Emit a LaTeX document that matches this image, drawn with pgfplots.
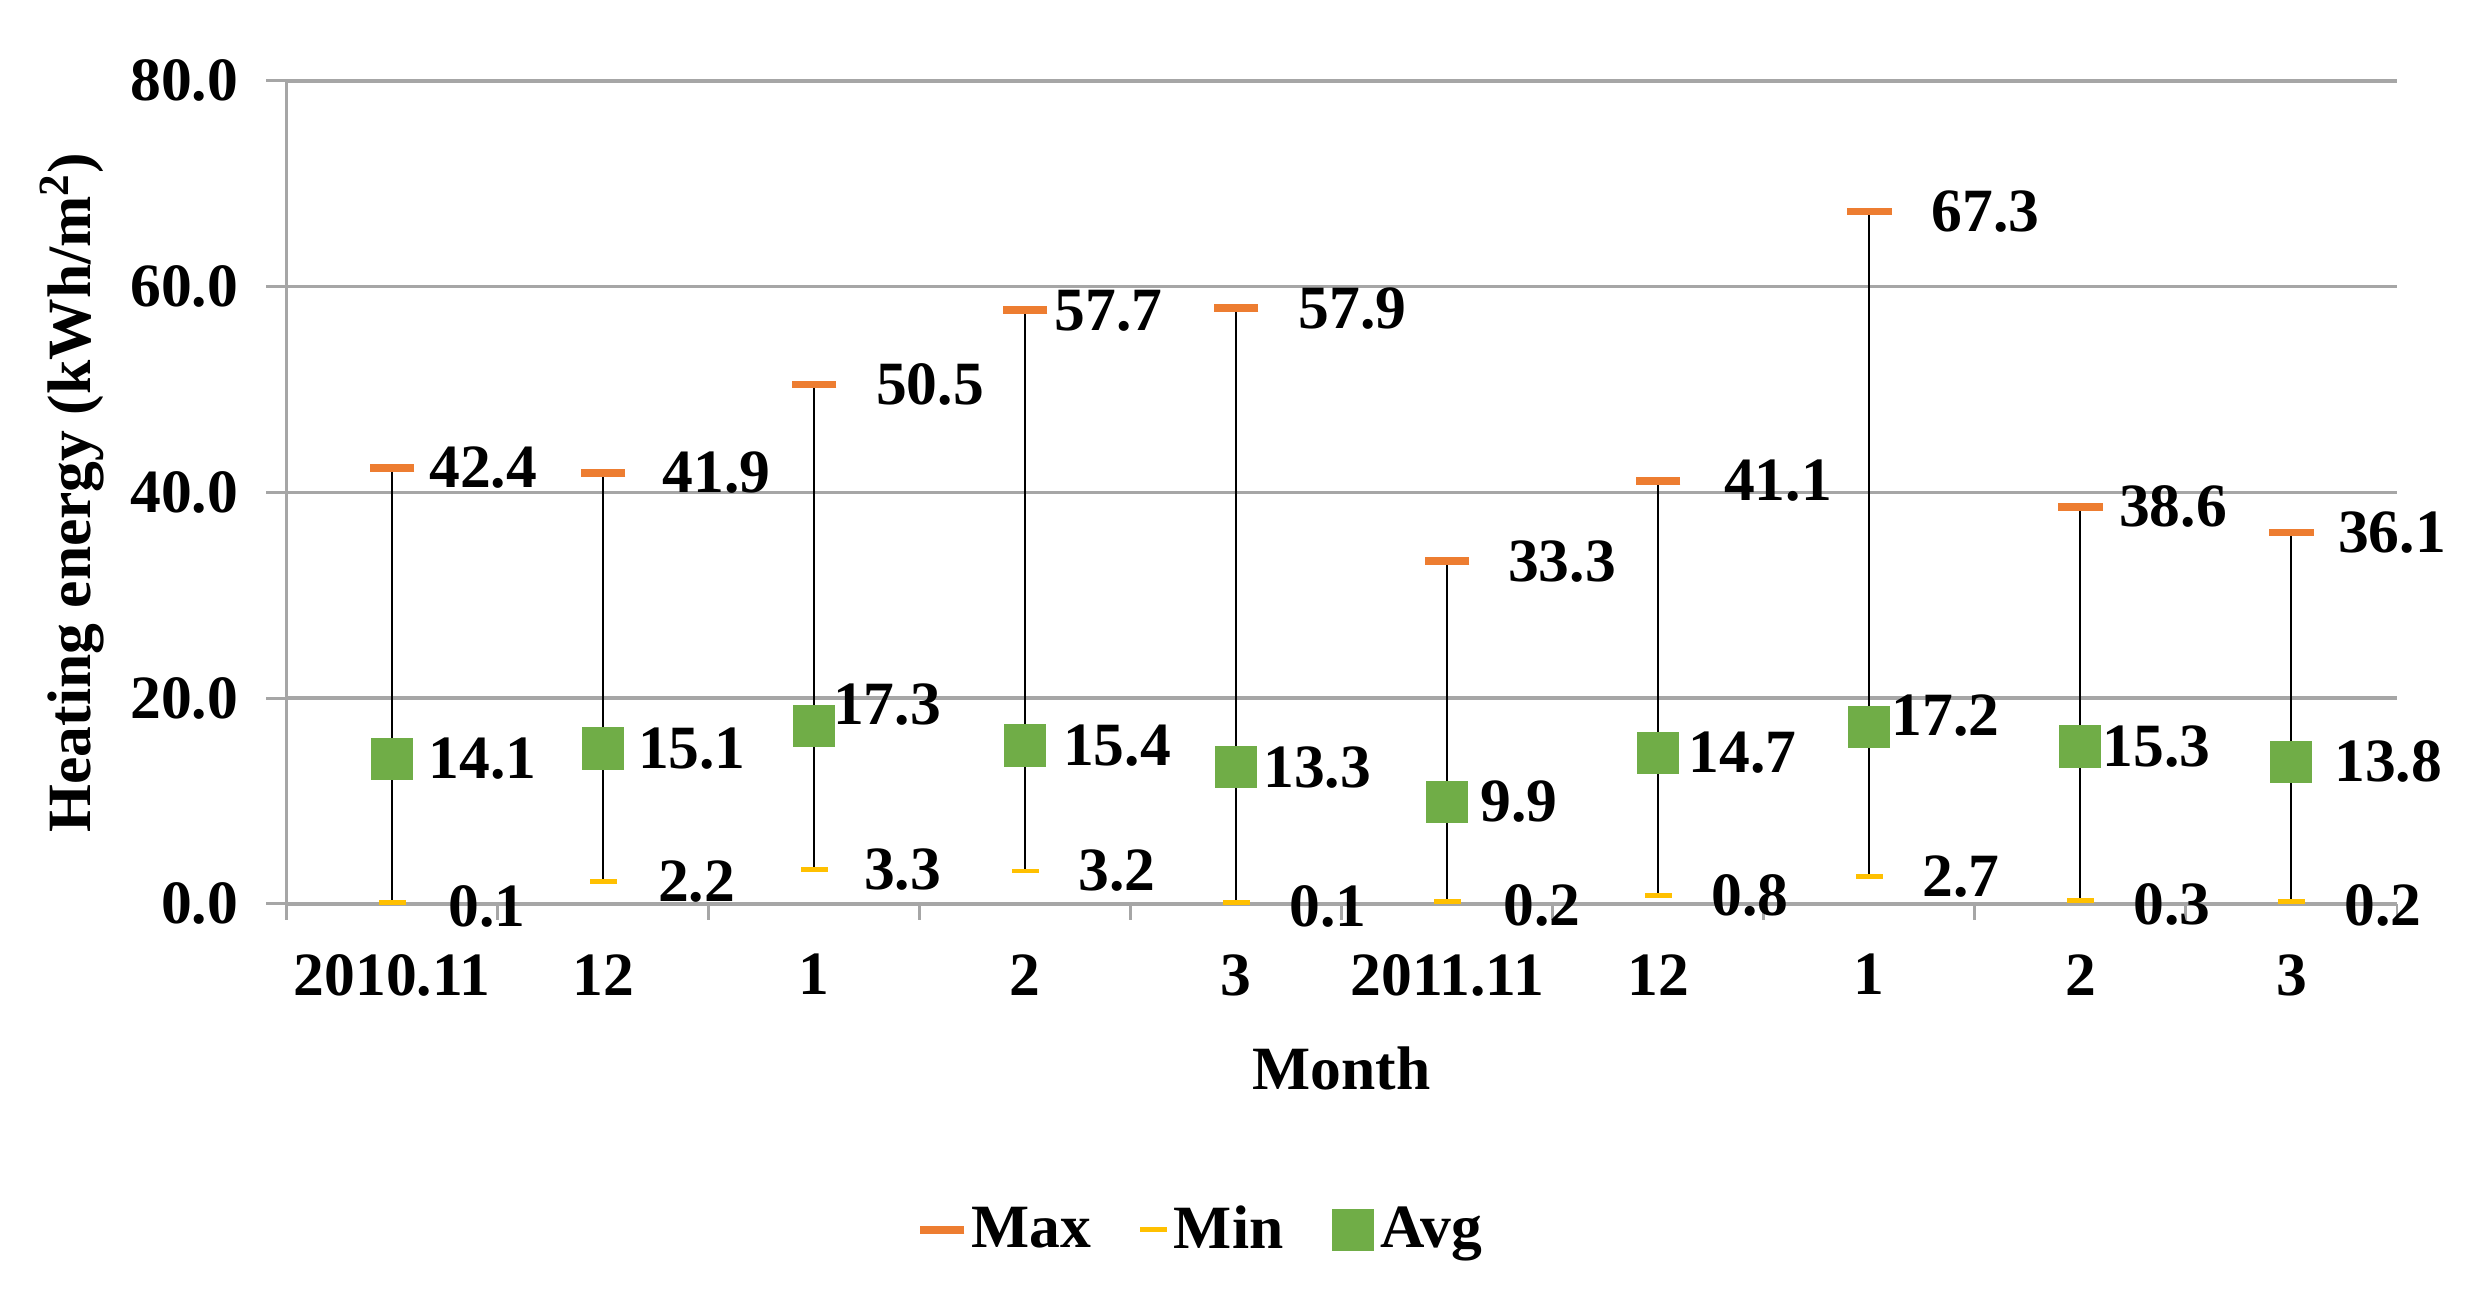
\documentclass[border=0pt]{standalone}
\usepackage{fontspec}
\setmainfont{Liberation Serif}
\usepackage{pgfplots}
\pgfplotsset{compat=1.18}
\usepackage{pgfplotstable}

\definecolor{cmax}{HTML}{ED7D31}
\definecolor{cmin}{HTML}{FFC000}
\definecolor{cavg}{HTML}{70AD47}
\definecolor{cgrid}{HTML}{A6A6A6}

% monthly heating energy, kWh/m2; dx/dy = label offsets in pt
\pgfplotstableread{
x max  min avg  dxmax dxmin dxavg dyavg dymin
0 42.4 0.1 14.1 9.5   15.3  10.4  0     -1
1 41.9 2.2 15.1 15.8  14.9  9.9   0     0
2 50.5 3.3 17.3 16.5  13.5  5.4   6     0
3 57.7 3.2 15.4 7.3   14.4  10.8  0     0
4 57.9 0.1 13.3 16.7  14.4  7.7   0     -1
5 33.3 0.2 9.9  16.2  15.3  9.5   0     -1
6 41.1 0.8 14.7 17.6  14.4  8.6   0     0
7 67.3 2.7 17.2 16.7  14.4  6.3   3.3   0
8 38.6 0.3 15.3 9.9   14.4  6.3   0     -1
9 36.1 0.2 13.8 12.2  14.4  12.2  0     -1
}\data

\newcommand{\lblfont}{\bfseries\fontsize{17.5}{20}\selectfont}

\begin{document}
\begin{tikzpicture}
\useasboundingbox (-81.5pt,-109.4pt) rectangle (620.5pt,257pt);
\begin{axis}[
  scale only axis,
  width=600pt, height=234pt,
  xmin=-0.5, xmax=9.5, ymin=0, ymax=80,
  clip=false,
  axis lines=left,
  axis line style={-, draw=cgrid, line width=0.8pt},
  ytick={0,20,...,80},
  ymajorgrids,
  grid style={cgrid, line width=1pt},
  xtick={0,...,9},
  xticklabels={2010.11,12,1,2,3,2011.11,12,1,2,3},
  minor xtick={-0.5,0.5,...,9.5},
  major x tick style={draw=none},
  tick align=outside,
  major tick length=5.8pt,
  minor tick length=4.5pt,
  tick style={cgrid, line width=0.8pt},
  /pgf/number format/assume math mode=true,
  scaled y ticks=false,
  y tick label style={xshift=-4.5pt, /pgf/number format/fixed, /pgf/number format/fixed zerofill, /pgf/number format/precision=1},
  x tick label style={yshift=-5pt},
  tick label style={font=\lblfont, text=black},
  ylabel={Heating energy (kWh/m\textsuperscript{2})},
  xlabel={Month},
  every axis y label/.style={at={(axis description cs:-0.1017,0.5)}, rotate=90, anchor=center, font=\lblfont},
  every axis x label/.style={at={(axis description cs:0.5,-0.2)}, anchor=center, font=\lblfont},
  legend style={at={(axis description cs:0.435,-0.396)}, anchor=center, draw=none, font=\lblfont,
    /tikz/every even column/.append style={column sep=12pt}},
  legend columns=-1,
]

% whiskers from min to max
\addplot[forget plot, only marks, mark=*, mark size=0pt, mark options={draw=none, fill=none},
  error bars/.cd, y dir=minus, y explicit, error mark=none,
  error bar style={black, line width=0.6pt}]
  table[x=x, y=max, y error minus expr=\thisrow{max}-\thisrow{min}] {\data};

\addplot[only marks, mark=-, mark size=6.3pt, mark options={draw=cmax, line width=2.2pt},
  visualization depends on={\thisrow{dxmax} \as \dx},
  nodes near coords={\pgfmathprintnumber[fixed, fixed zerofill, precision=1]{\pgfplotspointmeta}},
  every node near coord/.append style={anchor=west, inner sep=0pt, xshift=\dx pt, font=\lblfont, text=black}]
  table[x=x, y=max] {\data};
\addlegendentry{Max}

\addplot[only marks, mark=-, mark size=3.8pt, mark options={draw=cmin, line width=1.4pt},
  visualization depends on={\thisrow{dxmin} \as \dx},
  visualization depends on={\thisrow{dymin} \as \dy},
  nodes near coords={\pgfmathprintnumber[fixed, fixed zerofill, precision=1]{\pgfplotspointmeta}},
  every node near coord/.append style={anchor=west, inner sep=0pt, xshift=\dx pt, yshift=\dy pt, font=\lblfont, text=black}]
  table[x=x, y=min] {\data};
\addlegendentry{Min}

\addplot[only marks, mark=square*, mark size=5.85pt, mark options={draw=cavg, fill=cavg, line width=0pt},
  visualization depends on={\thisrow{dxavg} \as \dx},
  visualization depends on={\thisrow{dyavg} \as \dy},
  nodes near coords={\pgfmathprintnumber[fixed, fixed zerofill, precision=1]{\pgfplotspointmeta}},
  every node near coord/.append style={anchor=west, inner sep=0pt, xshift=\dx pt, yshift=\dy pt, font=\lblfont, text=black}]
  table[x=x, y=avg] {\data};
\addlegendentry{Avg}

\end{axis}
\end{tikzpicture}
\end{document}
